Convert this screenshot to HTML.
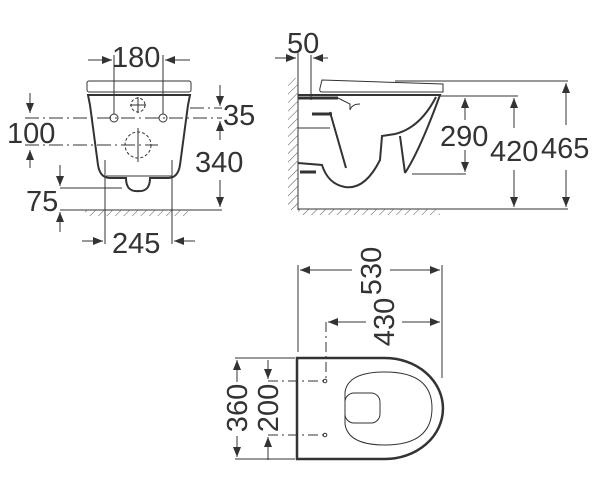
<!DOCTYPE html>
<html><head><meta charset="utf-8"><style>
html,body{margin:0;padding:0;background:#fff;}
svg{display:block;}
text{font-family:"Liberation Sans",sans-serif;font-size:29px;fill:#333;}
</style></head><body>
<svg width="600" height="500" viewBox="0 0 600 500" xmlns="http://www.w3.org/2000/svg">
<defs>
<marker id="a" markerWidth="10" markerHeight="8" refX="10" refY="4" orient="auto" markerUnits="userSpaceOnUse">
<path d="M0,0 L10,4 L0,8 Z" fill="#333"/></marker>
<pattern id="h" width="6" height="6" patternUnits="userSpaceOnUse" patternTransform="rotate(45)">
<line x1="0" y1="0" x2="0" y2="6" stroke="#555" stroke-width="1"/></pattern>
</defs>
<g stroke="#333" fill="none" stroke-width="1">
<!-- FRONT VIEW -->
<line x1="88" y1="60" x2="112" y2="60" marker-end="url(#a)"/>
<line x1="190" y1="60" x2="165" y2="60" marker-end="url(#a)"/>
<line x1="114" y1="55" x2="114" y2="114"/>
<line x1="163" y1="55" x2="163" y2="114"/>
<rect x="87" y="81" width="104" height="11" rx="2"/>
<path d="M88,95 L190,95 L188,105 L180,165 Q178,178 168,178 L150,178 Q150,192 138,191 Q126,192 126,178 L110,178 Q100,178 98,165 L90,105 Z" stroke-width="2"/>
<path d="M106,176 L172,176" />
<g stroke-dasharray="14,4,2,4">
<line x1="25" y1="118" x2="222" y2="118"/>
<line x1="25" y1="145" x2="158" y2="145"/>
<line x1="190" y1="108" x2="222" y2="108"/>
</g>
<circle cx="114" cy="118" r="4"/><circle cx="163" cy="118" r="4"/>
<circle cx="138" cy="105" r="7" stroke-dasharray="3,2"/>
<circle cx="138" cy="145" r="13" stroke-dasharray="3,2"/>
<line x1="138" y1="97" x2="138" y2="113"/><line x1="130" y1="105" x2="146" y2="105"/>
<line x1="138" y1="128" x2="138" y2="162"/>
<line x1="30" y1="93" x2="30" y2="113" marker-end="url(#a)"/>
<line x1="30" y1="168" x2="30" y2="150" marker-end="url(#a)"/>
<line x1="220" y1="85" x2="220" y2="106" marker-end="url(#a)"/>
<line x1="220" y1="140" x2="220" y2="121" marker-end="url(#a)"/>
<line x1="220" y1="180" x2="220" y2="207" marker-end="url(#a)"/>
<line x1="60" y1="165" x2="60" y2="186" marker-end="url(#a)"/>
<line x1="60" y1="232" x2="60" y2="212" marker-end="url(#a)"/>
<line x1="60" y1="188" x2="122" y2="188"/>
<line x1="60" y1="210" x2="222" y2="210"/>
<rect x="85" y="210" width="103" height="6" fill="url(#h)" stroke="none"/>
<line x1="105" y1="160" x2="105" y2="244"/>
<line x1="172" y1="160" x2="172" y2="244"/>
<line x1="82" y1="241" x2="103" y2="241" marker-end="url(#a)"/>
<line x1="195" y1="241" x2="174" y2="241" marker-end="url(#a)"/>
<!-- SIDE VIEW -->
<line x1="275" y1="58" x2="296" y2="58" marker-end="url(#a)"/>
<line x1="328" y1="58" x2="313" y2="58" marker-end="url(#a)"/>
<line x1="298" y1="52" x2="298" y2="210"/>
<line x1="311" y1="55" x2="311" y2="100"/>
<rect x="288" y="78" width="10" height="132" fill="url(#h)" stroke="none"/>
<line x1="298" y1="209" x2="568" y2="209"/>
<rect x="298" y="209" width="142" height="6" fill="url(#h)" stroke="none"/>
<path d="M322,80 L443,84 L443,92 L322,92 Q319,92 320,88 Z"/>
<line x1="395" y1="81" x2="568" y2="81"/>
<path d="M298,95 L440,95 Q420,150 405,173" stroke-width="2"/>
<path d="M436,97 Q420,128 395,134 L382,136 L380,160 Q365,190 345,187 Q328,184 322,165 L298,163" stroke-width="2"/>
<line x1="400" y1="136" x2="405" y2="173" stroke-width="2"/>
<line x1="330" y1="112" x2="346" y2="168" stroke-width="2"/>
<line x1="312" y1="114" x2="332" y2="114" stroke-width="3"/>
<line x1="298" y1="128" x2="330" y2="128"/>
<line x1="300" y1="172" x2="316" y2="172" stroke-width="3"/>
<line x1="298" y1="98" x2="338" y2="98" stroke-width="3"/>
<path d="M338,98 L350,104 L350,110 Q352,104 360,104"/>
<line x1="440" y1="96" x2="518" y2="96"/>
<line x1="412" y1="174" x2="466" y2="174"/>
<line x1="465" y1="120" x2="465" y2="98" marker-end="url(#a)"/>
<line x1="465" y1="150" x2="465" y2="172" marker-end="url(#a)"/>
<line x1="514" y1="128" x2="514" y2="98" marker-end="url(#a)"/>
<line x1="514" y1="170" x2="514" y2="207" marker-end="url(#a)"/>
<line x1="566" y1="125" x2="566" y2="83" marker-end="url(#a)"/>
<line x1="566" y1="170" x2="566" y2="207" marker-end="url(#a)"/>
<!-- TOP VIEW -->
<path d="M297,358 L385,358 A58,50.5 0 0 1 385,459 L297,459 Z" stroke-width="2.5"/>
<path d="M345,392 Q348,372 385,372 Q432,372 432,408 Q432,445 385,445 Q348,445 345,424 Z"/>
<rect x="345" y="393" width="35" height="30" rx="9"/>
<circle cx="325" cy="381" r="1.8"/><circle cx="325" cy="435" r="1.8"/>
<line x1="298" y1="265" x2="298" y2="352"/>
<line x1="442" y1="265" x2="442" y2="378"/>
<line x1="352" y1="270" x2="300" y2="270" marker-end="url(#a)"/>
<line x1="390" y1="270" x2="440" y2="270" marker-end="url(#a)"/>
<line x1="366" y1="322" x2="328" y2="322" marker-end="url(#a)"/>
<line x1="402" y1="322" x2="440" y2="322" marker-end="url(#a)"/>
<g stroke-dasharray="10,4,2,4">
<line x1="326" y1="322" x2="326" y2="381"/>
<line x1="268" y1="381" x2="325" y2="381"/>
<line x1="268" y1="435" x2="325" y2="435"/>
</g>
<line x1="235" y1="358" x2="295" y2="358"/>
<line x1="235" y1="459" x2="295" y2="459"/>
<line x1="237" y1="382" x2="237" y2="360" marker-end="url(#a)"/>
<line x1="237" y1="436" x2="237" y2="457" marker-end="url(#a)"/>
<line x1="268" y1="360" x2="268" y2="379" marker-end="url(#a)"/>
<line x1="268" y1="460" x2="268" y2="437" marker-end="url(#a)"/>
</g>
<text x="112" y="67">180</text>
<text x="7" y="143">100</text>
<text x="223" y="125">35</text>
<text x="195" y="172">340</text>
<text x="26" y="211">75</text>
<text x="112" y="253">245</text>
<text x="287" y="53">50</text>
<text x="440" y="146">290</text>
<text x="490" y="161">420</text>
<text x="541" y="158">465</text>
<text transform="translate(381,271) rotate(-90)" text-anchor="middle">530</text>
<text transform="translate(394,322) rotate(-90)" text-anchor="middle">430</text>
<text transform="translate(247,408) rotate(-90)" text-anchor="middle">360</text>
<text transform="translate(278,408) rotate(-90)" text-anchor="middle">200</text>
</svg>
</body></html>
